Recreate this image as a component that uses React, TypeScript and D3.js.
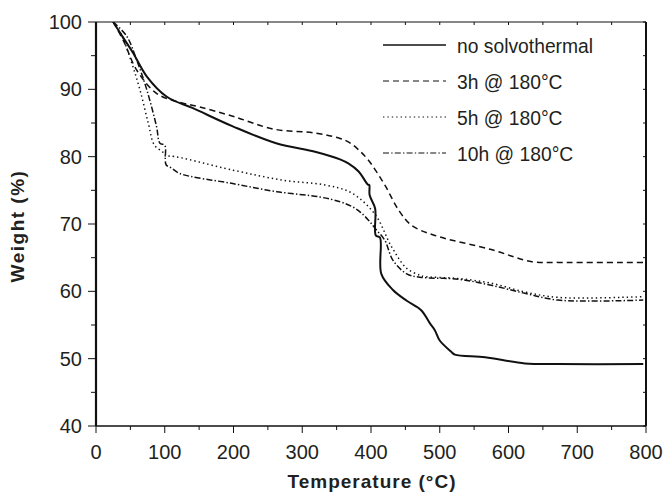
import React from 'react';
import * as d3 from 'd3';

// TGA curves
const noSolvoT = [25, 40, 54, 74, 103, 141, 199, 262, 320, 355, 367, 382, 396, 397.5, 398, 406, 407, 413, 415, 432, 452, 473, 486, 493, 500, 517, 522, 566, 624, 672, 796];
const noSolvoW = [100, 97.6, 95.4, 91.9, 88.9, 87.2, 84.5, 82, 80.7, 79.6, 79, 77.8, 75.8, 75.8, 74.3, 72.3, 68.3, 68, 62.6, 60.2, 58.6, 57.2, 55.2, 54.2, 52.7, 51, 50.6, 50.2, 49.3, 49.2, 49.2];

const h3T = [25, 40, 59, 88, 117, 150, 199, 258, 320, 355, 367, 380, 396, 420, 440, 459, 493, 575, 634, 672, 796];
const h3W = [100, 97.2, 92.9, 89.4, 88.2, 87.4, 86, 84.1, 83.5, 82.7, 82.2, 81.2, 79.5, 75.8, 72.1, 69.8, 68.3, 66.2, 64.4, 64.3, 64.3];

const h5T = [25, 37, 52, 64, 76, 85, 97, 102, 108, 199, 272, 333, 372, 406, 430, 452, 471, 478, 527, 575, 624, 672, 796];
const h5W = [100, 98.1, 93.9, 89.9, 85, 81.7, 80.7, 80, 80.1, 78, 76.5, 75.8, 74.6, 71.4, 66.6, 63.4, 62.4, 62.2, 61.9, 61.2, 59.9, 59.1, 59.2];

const h10T = [25, 44.6, 59, 74, 88, 93, 100, 102, 110, 122, 199, 263, 326, 355, 372, 384, 396, 408, 420, 432, 452, 471, 527, 575, 624, 672, 796];
const h10W = [100, 97.9, 94.4, 89.9, 84.5, 82, 81.7, 78.8, 78.3, 77.5, 76, 74.8, 74, 73.3, 72.6, 71.8, 70.6, 69.1, 67.6, 64.6, 62.6, 62.1, 61.8, 60.9, 59.7, 58.7, 58.7];

const seriesNames = ['no solvothermal', '3h @ 180°C', '5h @ 180°C', '10h @ 180°C'];
const dashes = [null, '6,4', '1.4,3', '6,2.2,1.4,2.2'];
const widths = [2, 1.5, 1.5, 1.5];

const xTicks = [0, 100, 200, 300, 400, 500, 600, 700, 800];
const yTicks = [40, 50, 60, 70, 80, 90, 100];

const W = 665, H = 494;
const left = 96, right = 646, top = 22, bottom = 426;
const font = '"Liberation Sans", Arial, sans-serif';
const ink = '#231f20';

export default function App() {
  const x = d3.scaleLinear().domain([0, 800]).range([left, right]);
  const y = d3.scaleLinear().domain([40, 100]).range([bottom, top]);

  const line = d3.line<[number, number]>()
    .x(d => x(d[0]))
    .y(d => y(d[1]))
    .curve(d3.curveCatmullRom.alpha(0.5));

  const curves = [
    [noSolvoT, noSolvoW],
    [h3T, h3W],
    [h5T, h5W],
    [h10T, h10W],
  ].map(([t, w]) => t.map((v, i) => [v, w[i]] as [number, number]));

  const minorX = d3.range(0, 801, 50);
  const minorY = d3.range(40, 101, 5);

  return (
    <div style={{ position: 'absolute', left: 0, top: 0 }}>
      <svg width={W} height={H} style={{ display: 'block', background: '#fff' }}>
        <defs>
          <clipPath id="plot">
            <rect x={left} y={top} width={right - left} height={bottom - top} />
          </clipPath>
        </defs>

        {/* curves */}
        <g clipPath="url(#plot)">
          {curves.map((c, i) => (
            <path key={i} d={line(c) || ''} fill="none" stroke="#111"
              strokeWidth={widths[i]} strokeDasharray={dashes[i] || undefined} />
          ))}
        </g>

        {/* frame */}
        <line x1={left} x2={right} y1={top} y2={top} stroke="#111" strokeWidth={1} />
        <line x1={left} x2={right} y1={bottom} y2={bottom} stroke="#111" strokeWidth={1.5} />
        <line x1={left} x2={left} y1={top} y2={bottom} stroke="#111" strokeWidth={2.2} />
        <line x1={right} x2={right} y1={top} y2={bottom} stroke="#111" strokeWidth={2} />

        {/* ticks */}
        {minorX.map(v => (
          <g key={'x' + v}>
            <line x1={x(v)} x2={x(v)} y1={bottom} y2={bottom + (v % 100 === 0 ? 7 : 4)} stroke="#111" strokeWidth={1} />
            <line x1={x(v)} x2={x(v)} y1={top} y2={top + 3} stroke="#111" strokeWidth={1} />
          </g>
        ))}
        {minorY.map(v => (
          <g key={'y' + v}>
            <line x1={left} x2={left - (v % 10 === 0 ? 8 : 5)} y1={y(v)} y2={y(v)} stroke="#111" strokeWidth={1} />
            <line x1={right} x2={right - 3} y1={y(v)} y2={y(v)} stroke="#111" strokeWidth={1} />
          </g>
        ))}

        {/* tick labels */}
        {xTicks.map(v => (
          <text key={'xl' + v} x={x(v)} y={bottom + 33} textAnchor="middle"
            fontFamily={font} fontSize={20} fill={ink}>{v}</text>
        ))}
        {yTicks.map(v => (
          <text key={'yl' + v} x={left - 14} y={y(v) + 7} textAnchor="end"
            fontFamily={font} fontSize={20} fill={ink}>{v}</text>
        ))}

        {/* axis titles */}
        <text x={372} y={488} textAnchor="middle" fontFamily={font} fontSize={19}
          fontWeight="bold" letterSpacing={1} fill={ink}>Temperature (°C)</text>
        <text transform="translate(24,226) rotate(-90)" textAnchor="middle" fontFamily={font}
          fontSize={19} fontWeight="bold" letterSpacing={1.5} fill={ink}>Weight (%)</text>

        {/* legend */}
        {seriesNames.map((name, i) => {
          const ly = 45 + i * 36;
          return (
            <g key={name}>
              <line x1={383} x2={446} y1={ly} y2={ly} stroke="#111"
                strokeWidth={i === 0 ? 1.5 : 1.2} strokeDasharray={dashes[i] || undefined} />
              <text x={457} y={ly + 7.5} fontFamily={font} fontSize={19.3} fill={ink}>{name}</text>
            </g>
          );
        })}
      </svg>
    </div>
  );
}
